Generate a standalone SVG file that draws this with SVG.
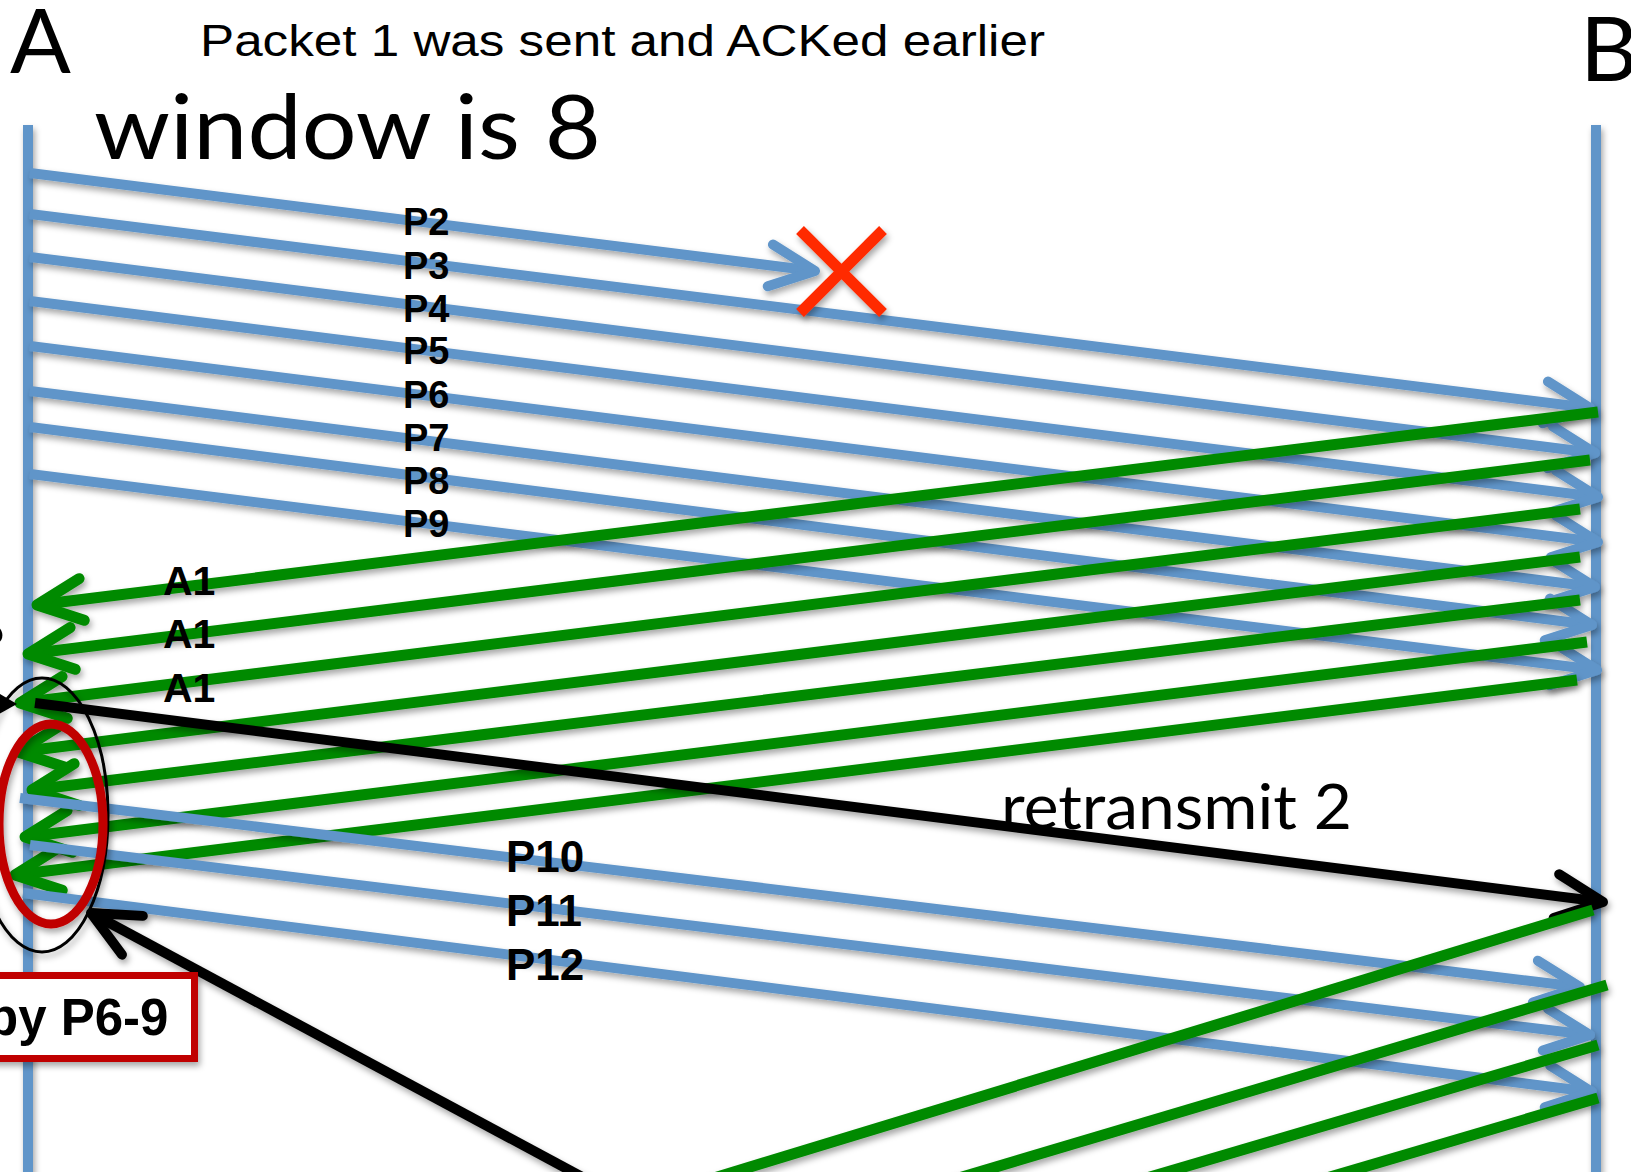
<svg xmlns="http://www.w3.org/2000/svg" width="1631" height="1172" viewBox="0 0 1631 1172">
  <style>
    .life { stroke: #6095c9; stroke-width: 10; fill: none; }
    .pkt { stroke: #6095c9; stroke-width: 10; fill: none; marker-end: url(#headBlue); }
    .ack { stroke: #008a00; stroke-width: 11; fill: none; marker-end: url(#headGreen); }
    .ackTail { stroke: #008a00; stroke-width: 11; fill: none; }
    .blk { stroke: #000; stroke-width: 10; fill: none; marker-end: url(#headBlack); }
    .shadow { filter: url(#sh); }
    .big { font-family: "Lato", "Open Sans", sans-serif; fill: #000; }
    .lbl { font-family: "Liberation Sans", Arial, sans-serif; font-weight: bold; fill: #000; }
    .title { font-family: "Liberation Sans", Arial, sans-serif; fill: #000; }
  </style>
  <defs>
    <filter id="sh" filterUnits="userSpaceOnUse" x="-50" y="-50" width="1731" height="1272">
      <feDropShadow dx="2" dy="4" stdDeviation="3" flood-color="#000" flood-opacity="0.35"/>
    </filter>
    <marker id="headBlue" markerUnits="userSpaceOnUse" markerWidth="1" markerHeight="1" refX="0" refY="0" orient="auto" overflow="visible">
      <path d="M -45 -21 L 0 0 L -45 21" fill="none" stroke="#6095c9" stroke-width="10" stroke-linecap="round" stroke-linejoin="round"/>
    </marker>
    <marker id="headGreen" markerUnits="userSpaceOnUse" markerWidth="1" markerHeight="1" refX="0" refY="0" orient="auto" overflow="visible">
      <path d="M -45 -21 L 0 0 L -45 21" fill="none" stroke="#008a00" stroke-width="11" stroke-linecap="round" stroke-linejoin="round"/>
    </marker>
    <marker id="headBlack" markerUnits="userSpaceOnUse" markerWidth="1" markerHeight="1" refX="0" refY="0" orient="auto" overflow="visible">
      <path d="M -47 -22 L 0 0 L -47 22" fill="none" stroke="#000" stroke-width="10" stroke-linecap="round" stroke-linejoin="round"/>
    </marker>
  </defs>

  <rect x="0" y="0" width="1631" height="1172" fill="#fff"/>

  <!-- host A: lifeline and name -->
  <g id="node-A">
    <line class="life shadow" x1="28" y1="125" x2="28" y2="1200"/>
    <text class="big" x="10" y="73" font-size="90">A</text>
  </g>

  <!-- host B: lifeline and name -->
  <g id="node-B">
    <line class="life shadow" x1="1596" y1="125" x2="1596" y2="1200"/>
    <text class="big" x="1580" y="81" font-size="90">B</text>
  </g>

  <!-- all packet / ack arrows -->
  <g id="connectors">
    <!-- first window: P2..P9 from A to B -->
    <line class="pkt shadow" x1="30" y1="173" x2="815" y2="271"/>
    <line class="pkt shadow" x1="30" y1="214" x2="1590" y2="408"/>
    <line class="pkt shadow" x1="30" y1="257" x2="1595" y2="453"/>
    <line class="pkt shadow" x1="30" y1="301" x2="1598" y2="497"/>
    <line class="pkt shadow" x1="30" y1="346" x2="1598" y2="542"/>
    <line class="pkt shadow" x1="30" y1="391" x2="1595" y2="587"/>
    <line class="pkt shadow" x1="30" y1="427" x2="1592" y2="625"/>
    <line class="pkt shadow" x1="30" y1="474" x2="1597" y2="670"/>

    <!-- duplicate ACKs from B back to A -->
    <line class="ack shadow" x1="1598" y1="412" x2="37" y2="605"/>
    <line class="ack shadow" x1="1590" y1="460" x2="28" y2="654"/>
    <line class="ack shadow" x1="1580" y1="509" x2="20" y2="703"/>
    <line class="ack shadow" x1="1580" y1="557" x2="18" y2="752"/>
    <line class="ack shadow" x1="1580" y1="600" x2="32" y2="790"/>
    <line class="ack shadow" x1="1587" y1="642" x2="25" y2="837"/>
    <line class="ack shadow" x1="1577" y1="680" x2="15" y2="875"/>

    <!-- retransmission of packet 2 -->
    <line class="blk shadow" x1="35" y1="703" x2="1603" y2="902"/>

    <!-- P10..P12 -->
    <line class="pkt shadow" x1="20" y1="798" x2="1580" y2="987"/>
    <line class="pkt shadow" x1="30" y1="845" x2="1590" y2="1035"/>
    <line class="pkt shadow" x1="23" y1="893" x2="1592" y2="1092"/>

    <!-- later ACKs leaving B -->
    <line class="ackTail shadow" x1="1593" y1="910" x2="642" y2="1200"/>
    <line class="ackTail shadow" x1="1607" y1="985" x2="885" y2="1200"/>
    <line class="ackTail shadow" x1="1598" y1="1045" x2="1072" y2="1200"/>
    <line class="ackTail shadow" x1="1598" y1="1098" x2="1252" y2="1200"/>
  </g>

  <!-- loss marker on P2 -->
  <g id="loss" class="shadow" stroke="#ff2a00" stroke-width="11" stroke-linecap="butt">
    <line x1="800" y1="230" x2="883" y2="313"/>
    <line x1="883" y1="230" x2="800" y2="313"/>
  </g>

  <!-- highlight of the duplicate ACKs arriving at A -->
  <g id="highlight">
    <polygon points="-12,687 17,704 -12,720" fill="#000"/>
    <ellipse class="shadow" cx="42" cy="815" rx="66" ry="137" fill="none" stroke="#000" stroke-width="3"/>
    <ellipse class="shadow" cx="51" cy="824" rx="52" ry="100" fill="none" stroke="#c00000" stroke-width="9"/>
    <line class="blk shadow" x1="625" y1="1200" x2="91" y2="913"/>
  </g>

  <g id="note-box">
    <rect class="shadow" x="-20" y="975.5" width="214.5" height="83" fill="#fff" stroke="#c00000" stroke-width="7"/>
    <text class="lbl" x="-13" y="1035" font-size="51">by P6-9</text>
  </g>

  <!-- texts -->
  <g id="labels">
    <text class="title" x="200" y="56" font-size="44" textLength="845" lengthAdjust="spacingAndGlyphs">Packet 1 was sent and ACKed earlier</text>
    <text class="big" x="94" y="159" font-size="90" textLength="507" lengthAdjust="spacingAndGlyphs">window is 8</text>
    <text class="big" x="1001" y="829" font-size="62" textLength="351" lengthAdjust="spacingAndGlyphs">retransmit 2</text>
    <text class="lbl" x="-28" y="663" font-size="55">?</text>

    <text class="lbl" x="403" y="235" font-size="38">P2</text>
    <text class="lbl" x="403" y="279" font-size="38">P3</text>
    <text class="lbl" x="403" y="322" font-size="38">P4</text>
    <text class="lbl" x="403" y="364" font-size="38">P5</text>
    <text class="lbl" x="403" y="408" font-size="38">P6</text>
    <text class="lbl" x="403" y="451" font-size="38">P7</text>
    <text class="lbl" x="403" y="494" font-size="38">P8</text>
    <text class="lbl" x="403" y="537" font-size="38">P9</text>

    <text class="lbl" x="163" y="595" font-size="41">A1</text>
    <text class="lbl" x="163" y="648" font-size="41">A1</text>
    <text class="lbl" x="163" y="702" font-size="41">A1</text>

    <text class="lbl" x="506" y="872" font-size="44">P10</text>
    <text class="lbl" x="506" y="926" font-size="44">P11</text>
    <text class="lbl" x="506" y="980" font-size="44">P12</text>
  </g>
</svg>
